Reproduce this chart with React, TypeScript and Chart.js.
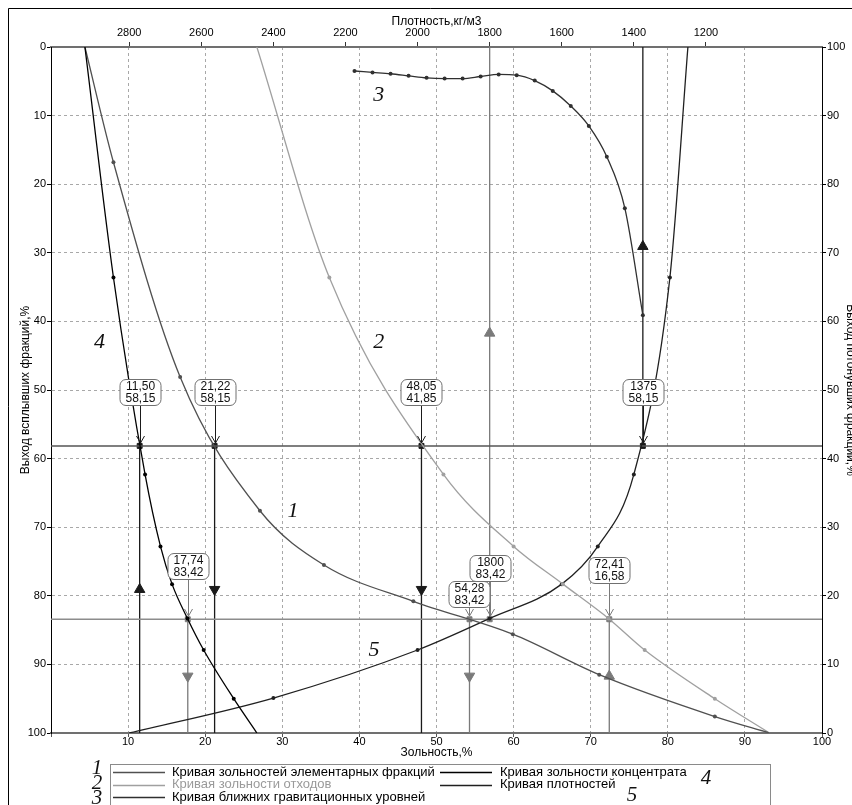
import React, { useEffect, useRef } from 'react';
import { Chart, registerables } from 'chart.js';

Chart.register(...registerables);

// ---------- axis data ----------
const ashRange = [0, 100];
const yieldRange = [0, 100];
const densityTicks = [2800, 2600, 2400, 2200, 2000, 1800, 1600, 1400, 1200];
const densityRange = [878, 3017];

// ---------- 1: elementary fractions (ash %, yield %) ----------
const elemAsh = [4.4, 8.1, 16.75, 27.1, 35.4, 47.0, 59.9, 71.1, 86.1, 93.2];
const elemYield = [0, 16.8, 48.1, 67.6, 75.5, 80.8, 85.6, 91.5, 97.6, 100];

// ---------- 2: waste ash ----------
const wasteAsh = [26.7, 36.1, 50.9, 60.0, 66.4, 72.3, 77.0, 86.1, 93.2];
const wasteYield = [0, 33.6, 62.3, 72.8, 78.3, 83.3, 87.9, 95.0, 100];

// ---------- 3: near-gravity levels (density, yield) ----------
const nearDensity = [2175, 2125, 2075, 2025, 1975, 1925, 1875, 1825, 1775, 1725, 1675, 1625, 1575, 1525, 1475, 1425, 1375];
const nearYield = [3.5, 3.7, 3.9, 4.2, 4.5, 4.6, 4.6, 4.3, 4.0, 4.1, 4.9, 6.4, 8.6, 11.5, 16.0, 23.5, 39.1];

// ---------- 4: concentrate ash ----------
const concAsh = [4.4, 8.1, 12.2, 14.2, 15.7, 17.7, 19.8, 23.7, 26.7];
const concYield = [0, 33.6, 62.3, 72.8, 78.3, 83.3, 87.9, 95.0, 100];

// ---------- 5: density curve (density, yield) ----------
const densDensity = [2800, 2400, 2000, 1800, 1600, 1500, 1400, 1300, 1250];
const densYield = [100, 94.9, 87.9, 83.3, 78.3, 72.8, 62.3, 33.6, 0];

// ---------- cut marks ----------
const cutYields = [58.15, 83.42];
const markValue = [11.5, 21.22, 48.05, 1375, 17.74, 54.28, 1800, 72.41];
const markAxis = ['x', 'x', 'x', 'xd', 'x', 'x', 'xd', 'x'];
const markCut = [0, 0, 0, 0, 1, 1, 1, 1];
const markSecond = [58.15, 58.15, 41.85, 58.15, 83.42, 83.42, 83.42, 16.58];
const markArrowUp = [true, false, false, true, false, false, true, true];

const legendNames = [
  'Кривая зольностей элементарных фракций',
  'Кривая зольности отходов',
  'Кривая ближних гравитационных уровней',
  'Кривая зольности концентрата',
  'Кривая плотностей',
];
const curveNumbers = ['1', '2', '3', '4', '5'];

// ---------- styles / layout ----------
const W = 844;
const H = 797;
const FONT = '"Liberation Sans", Arial, sans-serif';
const curveColors = ['#505050', '#a0a0a0', '#303030', '#000000', '#202020'];
const legendTextColors = ['#000', '#9a9a9a', '#000', '#000', '#000'];
const cutColors = ['#555555', '#8c8c8c'];
const markColors = ['#1a1a1a', '#7a7a7a'];
const labelLift = [41, 41, 41, 41, 40, 12, 38, 36];
const curveNoPos = [[31.4, 67.6], [42.5, 43.0], [42.5, 7.1], [6.3, 43.1], [41.9, 88.0]];

const fmt = (v: number) => v.toFixed(2).replace('.', ',');

const pts = (xs: number[], ys: number[]) => xs.map((x, i) => ({ x, y: ys[i] }));

function roundRect(ctx: CanvasRenderingContext2D, x: number, y: number, w: number, h: number, r: number) {
  ctx.beginPath();
  ctx.moveTo(x + r, y);
  ctx.lineTo(x + w - r, y);
  ctx.arcTo(x + w, y, x + w, y + r, r);
  ctx.lineTo(x + w, y + h - r);
  ctx.arcTo(x + w, y + h, x + w - r, y + h, r);
  ctx.lineTo(x + r, y + h);
  ctx.arcTo(x, y + h, x, y + h - r, r);
  ctx.lineTo(x, y + r);
  ctx.arcTo(x, y, x + r, y, r);
  ctx.closePath();
}

const decorPlugin = {
  id: 'decor',
  beforeDraw(chart: any) {
    const ctx: CanvasRenderingContext2D = chart.ctx;
    ctx.save();
    ctx.fillStyle = '#fff';
    ctx.fillRect(0, 0, chart.width, chart.height);
    ctx.strokeStyle = '#000';
    ctx.lineWidth = 1;
    ctx.beginPath();
    ctx.moveTo(0.5, chart.height);
    ctx.lineTo(0.5, 0.5);
    ctx.lineTo(chart.width, 0.5);
    ctx.stroke();
    ctx.restore();
  },
  afterDatasetsDraw(chart: any) {
    const ctx: CanvasRenderingContext2D = chart.ctx;
    const ys = chart.scales.y;
    ctx.save();
    markValue.forEach((v, i) => {
      const xs = chart.scales[markAxis[i]];
      const px = Math.round(xs.getPixelForValue(v)) + 0.5;
      const py = Math.round(ys.getPixelForValue(cutYields[markCut[i]]));
      const w = 41;
      const h = 26;
      const bottom = py - labelLift[i];
      const top = bottom - h;
      const color = markColors[markCut[i]];
      ctx.strokeStyle = color;
      ctx.lineWidth = 1;
      ctx.beginPath();
      ctx.moveTo(px, bottom);
      ctx.lineTo(px, py - 3);
      ctx.stroke();
      ctx.beginPath();
      ctx.moveTo(px - 4, py - 10);
      ctx.lineTo(px, py - 3);
      ctx.lineTo(px + 4, py - 10);
      ctx.stroke();
      roundRect(ctx, Math.round(px - w / 2), top + 0.5, w, h, 6);
      ctx.fillStyle = '#fff';
      ctx.fill();
      ctx.strokeStyle = '#707070';
      ctx.stroke();
      ctx.fillStyle = '#111';
      ctx.font = '12px ' + FONT;
      ctx.textAlign = 'center';
      ctx.textBaseline = 'middle';
      const first = markAxis[i] === 'xd' ? String(v) : fmt(v);
      ctx.fillText(first, px, top + 7.5);
      ctx.fillText(fmt(markSecond[i]), px, top + 19.5);
    });
    // curve numbers
    ctx.font = 'italic 22px "Liberation Serif", "Times New Roman", serif';
    ctx.fillStyle = '#111';
    ctx.textAlign = 'center';
    ctx.textBaseline = 'middle';
    curveNumbers.forEach((n, i) => {
      const [a, b] = curveNoPos[i];
      ctx.fillText(n, chart.scales.x.getPixelForValue(a), ys.getPixelForValue(b));
    });
    ctx.restore();
  },
  afterDraw(chart: any) {
    const ctx: CanvasRenderingContext2D = chart.ctx;
    ctx.save();
    ctx.strokeStyle = '#8a8a8a';
    ctx.lineWidth = 1;
    ctx.strokeRect(102.5, 756.5, 660, 60);
    const rowY = [764, 776.5, 789];
    const cols = [
      { line: [105, 157], text: 164, items: [0, 1, 2] },
      { line: [432, 484], text: 492, items: [3, 4] },
    ];
    ctx.font = '13px ' + FONT;
    ctx.textBaseline = 'middle';
    ctx.textAlign = 'left';
    cols.forEach((c) => {
      c.items.forEach((it, r) => {
        const y = rowY[r];
        ctx.strokeStyle = curveColors[it];
        ctx.lineWidth = 1.3;
        ctx.beginPath();
        ctx.moveTo(c.line[0], Math.round(y) + 0.5);
        ctx.lineTo(c.line[1], Math.round(y) + 0.5);
        ctx.stroke();
        ctx.fillStyle = legendTextColors[it];
        ctx.fillText(legendNames[it], c.text, y);
      });
    });
    ctx.font = 'italic 21px "Liberation Serif", "Times New Roman", serif';
    ctx.fillStyle = '#111';
    ctx.textAlign = 'center';
    ctx.fillText('1', 89, 760);
    ctx.fillText('2', 89, 775);
    ctx.fillText('3', 89, 790);
    ctx.fillText('4', 698, 770);
    ctx.fillText('5', 624, 787);
    ctx.restore();
  },
};

export default function App() {
  const ref = useRef<HTMLCanvasElement>(null);
  useEffect(() => {
    if (!ref.current) return;
    Chart.defaults.font.family = FONT;
    Chart.defaults.color = '#000';

    const curve = (label: string, data: any[], color: string, axis: string, dots: 'inner' | 'all') => ({
      label,
      data,
      xAxisID: axis,
      yAxisID: 'y',
      showLine: true,
      borderColor: color,
      backgroundColor: color,
      borderWidth: 1.3,
      cubicInterpolationMode: 'monotone',
      pointRadius: (c: any) =>
        dots === 'all' ? 2 : c.dataIndex === 0 || c.dataIndex === data.length - 1 ? 0 : 2,
      pointBorderWidth: 0,
      pointBackgroundColor: color,
    });

    const datasets: any[] = [
      curve(legendNames[3], pts(concAsh, concYield), curveColors[3], 'x', 'inner'),
      curve(legendNames[0], pts(elemAsh, elemYield), curveColors[0], 'x', 'inner'),
      curve(legendNames[1], pts(wasteAsh, wasteYield), curveColors[1], 'x', 'inner'),
      curve(legendNames[2], pts(nearDensity, nearYield), curveColors[2], 'xd', 'all'),
      curve(legendNames[4], pts(densDensity, densYield), curveColors[4], 'xd', 'inner'),
    ];

    cutYields.forEach((cy, k) => {
      datasets.push({
        label: 'cut' + k,
        data: [{ x: ashRange[0], y: cy }, { x: ashRange[1], y: cy }],
        xAxisID: 'x',
        yAxisID: 'y',
        showLine: true,
        borderColor: cutColors[k],
        borderWidth: 1.5,
        pointRadius: 0,
      });
    });

    markValue.forEach((v, i) => {
      const yCut = cutYields[markCut[i]];
      const yEnd = markAxis[i] === 'xd' ? yieldRange[0] : yieldRange[1];
      const yMid = (yCut + yEnd) / 2;
      const color = markColors[markCut[i]];
      datasets.push({
        label: 'mark' + i,
        data: [{ x: v, y: yCut }, { x: v, y: yMid }, { x: v, y: yEnd }],
        xAxisID: markAxis[i],
        yAxisID: 'y',
        showLine: true,
        borderColor: color,
        borderWidth: 1.3,
        pointStyle: ['rect', 'triangle', 'rect'],
        pointRadius: [3.5, 6, 0],
        pointRotation: [0, markArrowUp[i] ? 0 : 180, 0],
        pointBackgroundColor: color,
        pointBorderColor: color,
        pointBorderWidth: 1,
      });
    });

    const edgeless = (base: string) => (c: any) =>
      c.tick && (c.tick.value === 0 || c.tick.value === 100) ? 'rgba(0,0,0,0)' : base;

    const chart = new Chart(ref.current, {
      type: 'scatter',
      data: { datasets },
      plugins: [decorPlugin],
      options: {
        responsive: false,
        animation: false,
        events: [],
        layout: { padding: 0 },
        plugins: { legend: { display: false }, tooltip: { enabled: false } },
        scales: {
          x: {
            type: 'linear',
            position: 'bottom',
            min: ashRange[0],
            max: ashRange[1],
            ticks: {
              stepSize: 10,
              padding: -2,
              font: { size: 11 },
              color: '#000',
              callback: (v: any) => (v === 0 ? '' : String(v)),
            },
            grid: { color: edgeless('#a8a8a8'), tickLength: 4, tickColor: '#555' },
            border: { color: '#707070', width: 2, dash: [3, 3] },
            title: {
              display: true,
              text: 'Зольность,%',
              font: { size: 12 },
              color: '#000',
              padding: { top: 0, bottom: 45 },
            },
            afterFit: (s: any) => {
              s.height = 72;
            },
          },
          xd: {
            type: 'linear',
            position: 'top',
            reverse: true,
            min: densityRange[0],
            max: densityRange[1],
            afterBuildTicks: (s: any) => {
              s.ticks = densityTicks.map((v) => ({ value: v }));
            },
            ticks: { padding: 2, font: { size: 11 }, color: '#000', callback: (v: any) => String(v) },
            grid: { drawOnChartArea: false, tickLength: 5, tickColor: '#333' },
            border: { color: '#707070', width: 2 },
            title: {
              display: true,
              text: 'Плотность,кг/м3',
              font: { size: 12 },
              color: '#000',
              padding: { top: 6, bottom: 0 },
            },
            afterFit: (s: any) => {
              s.height = 39;
            },
          },
          y: {
            type: 'linear',
            position: 'left',
            reverse: true,
            min: yieldRange[0],
            max: yieldRange[1],
            ticks: { stepSize: 10, padding: 1, font: { size: 11 }, color: '#000' },
            grid: { color: edgeless('#a8a8a8'), tickLength: 4, tickColor: '#000' },
            border: { color: '#000', width: 1, dash: [3, 3] },
            title: {
              display: true,
              text: 'Выход всплывших фракций,%',
              font: { size: 12 },
              color: '#000',
              padding: { top: 10, bottom: 0 },
            },
            afterFit: (s: any) => {
              s.width = 43;
            },
          },
          y2: {
            type: 'linear',
            position: 'right',
            min: yieldRange[0],
            max: yieldRange[1],
            ticks: { stepSize: 10, padding: 1, font: { size: 11 }, color: '#000' },
            grid: { drawOnChartArea: false, tickLength: 4, tickColor: '#000' },
            border: { color: '#000', width: 1 },
            title: {
              display: true,
              text: 'Выход потонувших фракций,%',
              font: { size: 12 },
              color: '#000',
              padding: { top: -6, bottom: 0 },
            },
            afterFit: (s: any) => {
              s.width = 30;
            },
          },
        },
      } as any,
    });
    return () => chart.destroy();
  }, []);

  return (
    <div
      style={{
        position: 'fixed',
        left: 8,
        top: 8,
        width: W,
        height: H,
        overflow: 'hidden',
        background: '#fff',
      }}
    >
      <canvas ref={ref} width={W} height={H} style={{ display: 'block' }} />
    </div>
  );
}
